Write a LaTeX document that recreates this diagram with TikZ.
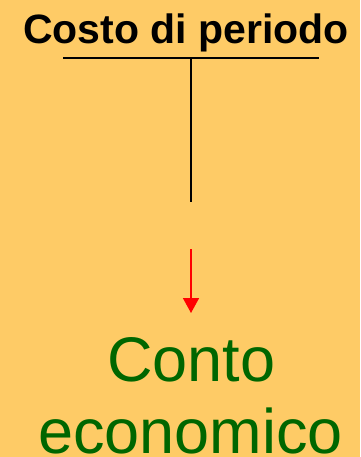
\documentclass[tikz,border=0pt]{standalone}
\usepackage{fontspec}
\setmainfont{Liberation Sans}
\usetikzlibrary{arrows.meta}
\definecolor{bgorange}{RGB}{254,203,102}
\definecolor{darkgreen}{RGB}{0,102,0}
\tikzset{
  titletext/.style={font=\fontsize{41}{49}\selectfont\bfseries, text=black, inner sep=0pt, anchor=base},
  bigtext/.style={font=\fontsize{63}{72}\selectfont, text=darkgreen, inner sep=0pt, anchor=base},
  blackline/.style={draw=black, line width=1.6pt},
  redarrow/.style={draw=red, line width=1.6pt, -{Triangle[length=15pt,width=16pt]}}
}
\begin{document}
\begin{tikzpicture}[x=1pt,y=-1pt]
\fill[bgorange] (0,0) rectangle (360,457);
\useasboundingbox (0,0) rectangle (360,457);
\node[titletext] (title) at (186,44) {Costo di periodo};
\coordinate (hl) at (63,58);
\coordinate (hr) at (319,58);
\coordinate (vt) at (191,58);
\coordinate (vb) at (191,202);
\coordinate (as) at (191,249);
\coordinate (ae) at (191,313);
\draw[blackline] (hl) -- (hr);
\draw[blackline] (vt) -- (vb);
\draw[redarrow] (as) -- (ae);
\node[bigtext] (conto) at (191.5,381) {Conto};
\node[bigtext] (econ) at (190.5,453) {economico};
\end{tikzpicture}
\end{document}
